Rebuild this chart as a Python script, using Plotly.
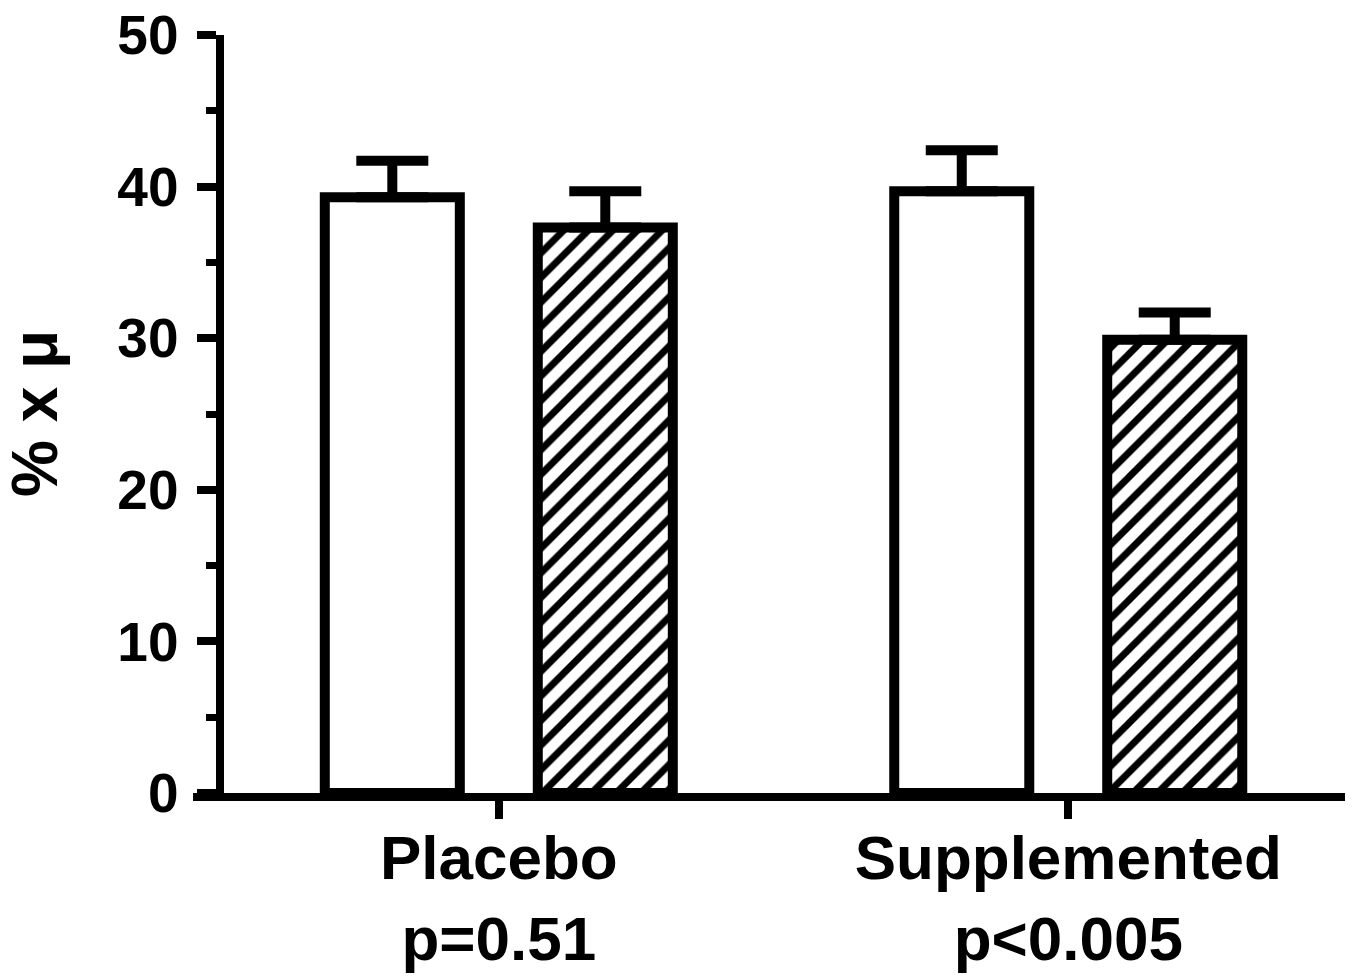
import plotly.graph_objects as go

# Data
groups = ["Placebo", "Supplemented"]
group_labels = ["Placebo<br>p=0.51", "Supplemented<br>p<0.005"]
before_vals = [39.3, 39.7]
before_err = [2.4, 2.7]
after_vals = [37.3, 29.9]
after_err = [2.4, 1.8]
y_title = "% x μ"

# page body has an 8px default margin -> layout offsets compensate
OFF = 8
W, H = 1362, 976
ML = 193 - OFF
MR = 1362 - (1345 - OFF)
MT = 35 - OFF
MB = 976 - (793 - OFF)
FONT = "Liberation Sans, Arial, sans-serif"

fig = go.Figure()
fig.add_trace(go.Bar(
    x=groups, y=before_vals, name="before",
    marker=dict(color="white", line=dict(color="black", width=10)),
    error_y=dict(type="data", array=before_err, arrayminus=[0, 0], symmetric=False,
                 color="black", thickness=10, width=36),
))
fig.add_trace(go.Bar(
    x=groups, y=after_vals, name="after",
    marker=dict(color="white", line=dict(color="black", width=10),
                pattern=dict(shape="/", fgcolor="black", bgcolor="white",
                             fgopacity=1, fillmode="replace",
                             size=17.4, solidity=0.4)),
    error_y=dict(type="data", array=after_err, arrayminus=[0, 0], symmetric=False,
                 color="black", thickness=10, width=36),
))

plot_w = W - ML - MR
yaxis_px = 219.5 - OFF
fig.update_layout(
    width=W, height=H,
    margin=dict(l=ML, r=MR, t=MT, b=MB, autoexpand=False),
    paper_bgcolor="white", plot_bgcolor="white",
    showlegend=False,
    barmode="group", bargap=0.252, bargroupgap=0.366,
    font=dict(family=FONT, color="black", size=55, weight="bold"),
    xaxis=dict(
        type="category", range=[-0.537, 1.486],
        tickvals=groups, ticktext=group_labels,
        showline=True, linecolor="black", linewidth=8,
        ticks="outside", ticklen=18, tickwidth=8, tickcolor="black",
        tickfont=dict(family=FONT, size=62, weight="bold", color="black"),
        ticklabelstandoff=-14,
        showgrid=False, zeroline=False, automargin=False,
    ),
    yaxis=dict(
        range=[0, 50], anchor="free", position=(yaxis_px - ML) / plot_w,
        tickvals=[0, 10, 20, 30, 40, 50],
        showline=True, linecolor="black", linewidth=8,
        ticks="outside", ticklen=19, tickwidth=8, tickcolor="black",
        minor=dict(tickvals=[5, 15, 25, 35, 45], ticks="outside", ticklen=10,
                   tickwidth=7, tickcolor="black", showgrid=False),
        tickfont=dict(family=FONT, size=55, weight="bold", color="black"),
        ticklabelstandoff=7, ticklabeloverflow="allow",
        showgrid=False, zeroline=False, automargin=False,
    ),
    annotations=[dict(
        text=y_title, textangle=-90, xref="paper", yref="paper",
        x=(35 - OFF - ML) / plot_w, y=0.5, xanchor="center", yanchor="middle",
        showarrow=False, font=dict(family=FONT, size=64, weight="bold", color="black"),
    )],
)

fig.write_html("out.html")
